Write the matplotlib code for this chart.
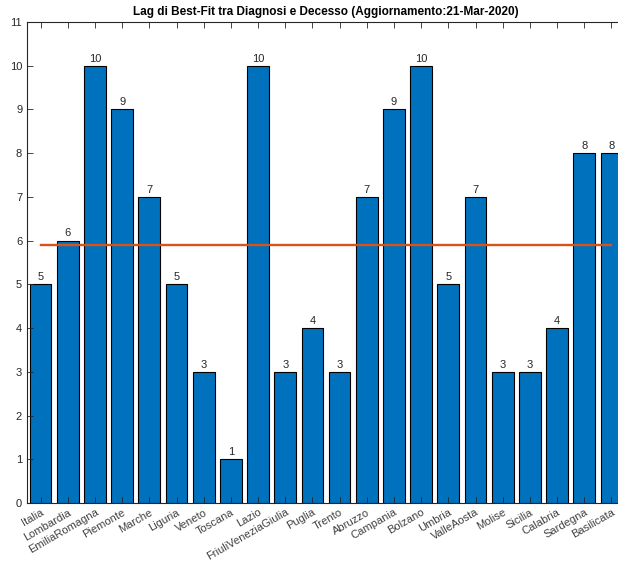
import numpy as np
import matplotlib.pyplot as plt

plt.rcParams['font.family'] = ['Liberation Sans', 'DejaVu Sans']

regioni = ['Italia', 'Lombardia', 'EmiliaRomagna', 'Piemonte', 'Marche', 'Liguria',
           'Veneto', 'Toscana', 'Lazio', 'FriuliVeneziaGiulia', 'Puglia', 'Trento',
           'Abruzzo', 'Campania', 'Bolzano', 'Umbria', 'ValleAosta', 'Molise',
           'Sicilia', 'Calabria', 'Sardegna', 'Basilicata']
lag = [5, 6, 10, 9, 7, 5, 3, 1, 10, 3, 4, 3, 7, 9, 10, 5, 7, 3, 3, 4, 8, 8]

x = np.arange(1, len(lag) + 1)
media = np.mean(lag)

fig = plt.figure(figsize=(6.18, 5.63), dpi=100)
# l'asse esce un po' a destra come nell'originale
ax = fig.add_axes([27 / 618, 60 / 563, 598 / 618, 481 / 563])

ax.bar(x, lag, width=0.8, color='#0072BD', edgecolor='black', linewidth=0.8)
ax.plot([x[0], x[-1]], [media, media], color='#D95319', lw=1.7)

for xi, v in zip(x, lag):
    ax.text(xi, v + 0.05, str(v), ha='center', va='bottom', fontsize=8, color='#262626')

ax.set_xlim(0.5, len(lag) + 0.5)
ax.set_ylim(0, 11)
ax.set_yticks(range(0, 12))
ax.set_xticks(x)
ax.set_xticklabels(regioni, rotation=30, ha='right', rotation_mode='anchor')

ax.tick_params(direction='in', length=4, width=0.6, colors='#262626', labelsize=8,
               top=True, right=True)
ax.tick_params(axis='x', pad=3, labelcolor='#404040')
for s in ax.spines.values():
    s.set_color('#262626')
    s.set_linewidth(0.8)

ax.set_title('Lag di Best-Fit tra Diagnosi e Decesso (Aggiornamento:21-Mar-2020)',
             fontsize=8.5, fontweight='bold', pad=5)

fig.savefig('out.png', dpi=100)
